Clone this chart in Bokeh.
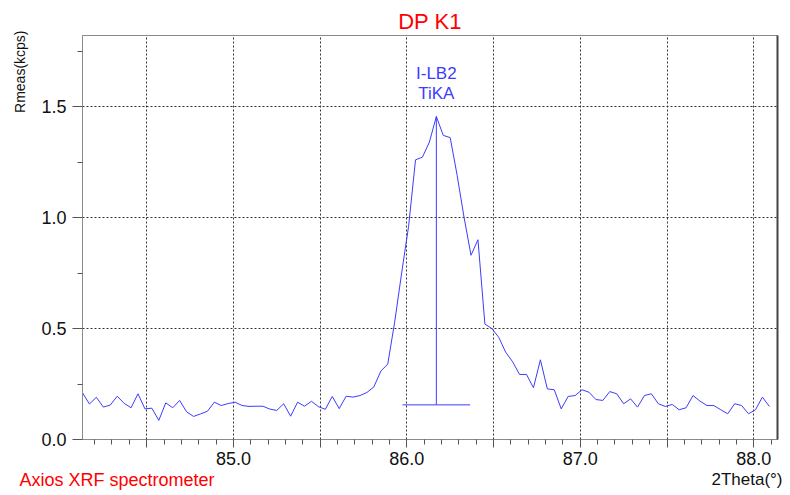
import numpy as np
from bokeh.plotting import figure
from bokeh.layouts import column
from bokeh.models import (Range1d, FixedTicker, LinearAxis, Title, ColumnDataSource)
from bokeh.core.properties import value
from bokeh.embed import file_html
from bokeh.resources import INLINE

# ---- data ----
theta_start = 84.13
theta_step = 0.04
rmeas = [
    0.210, 0.160, 0.190, 0.146, 0.155, 0.195, 0.163, 0.143, 0.206, 0.138,
    0.141, 0.086, 0.165, 0.143, 0.176, 0.125, 0.104, 0.115, 0.127, 0.168,
    0.153, 0.162, 0.168, 0.153, 0.149, 0.150, 0.150, 0.137, 0.131, 0.161,
    0.105, 0.168, 0.150, 0.172, 0.148, 0.136, 0.194, 0.139, 0.195, 0.191,
    0.198, 0.212, 0.237, 0.308, 0.340, 0.530, 0.750, 0.960, 1.260, 1.272,
    1.340, 1.455, 1.370, 1.360, 1.190, 1.000, 0.830, 0.900, 0.520, 0.500,
    0.460, 0.393, 0.350, 0.293, 0.293, 0.233, 0.359, 0.228, 0.224, 0.138,
    0.194, 0.198, 0.224, 0.213, 0.180, 0.176, 0.216, 0.206, 0.161, 0.183,
    0.146, 0.198, 0.206, 0.161, 0.149, 0.158, 0.134, 0.143, 0.198, 0.173,
    0.153, 0.153, 0.134, 0.116, 0.161, 0.153, 0.116, 0.134, 0.191, 0.149,
]
two_theta = [round(theta_start + theta_step * i, 4) for i in range(len(rmeas))]

# peak marker
peak_pos = 86.17
peak_height = 1.455
peak_bg = 0.156
peak_halfwidth = 0.195
peak_names = ["I-LB2", "TiKA"]
peak_name_y = [1.649, 1.559]

x_major = [84.5, 85.0, 85.5, 86.0, 86.5, 87.0, 87.5, 88.0]
x_labels = {84.5: "", 85.0: "85.0", 85.5: "", 86.0: "86.0", 86.5: "",
            87.0: "87.0", 87.5: "", 88.0: "88.0"}
x_minor = [round(84.2 + 0.1 * i, 2) for i in range(40)]
y_major = [0.0, 0.5, 1.0, 1.5]
y_labels = {0.0: "0.0", 0.5: "0.5", 1.0: "1.0", 1.5: "1.5"}
y_minor = [0.25, 0.75, 1.25, 1.75]

FONT = "Liberation Sans"
BLUE = "#3c3cff"
RED = "#ff0000"

p = figure(width=789, height=471, output_backend="svg", toolbar_location=None,
           title=None,
           x_range=Range1d(84.13, 88.137), y_range=Range1d(0, 1.82),
           min_border_left=82, min_border_right=12, min_border_top=35,
           min_border_bottom=32)
p.background_fill_color = "white"
p.border_fill_color = "white"
p.outline_line_color = "#8a8a8a"
p.outline_line_width = 1

# axes
xa = p.xaxis[0]
xa.ticker = FixedTicker(ticks=x_major, minor_ticks=x_minor)
xa.major_label_overrides = x_labels
ya = p.yaxis[0]
ya.ticker = FixedTicker(ticks=y_major, minor_ticks=y_minor)
ya.major_label_overrides = y_labels
for ax in (xa, ya):
    ax.axis_line_color = "#8a8a8a"
    ax.axis_line_width = 1
    ax.major_tick_line_color = "#555555"
    ax.minor_tick_line_color = "#555555"
    ax.major_tick_in = 0
    ax.minor_tick_in = 0
    ax.minor_tick_out = 5
    ax.major_label_text_font = FONT
    ax.major_label_text_font_size = "18px"
    ax.major_label_text_color = "#111111"
xa.major_tick_out = 8
xa.major_label_standoff = 4
ya.major_tick_out = 10
ya.major_label_standoff = 6

right_ax = LinearAxis(ticker=FixedTicker(ticks=[]), axis_line_color="#444444",
                      axis_line_width=2, major_tick_line_color=None,
                      minor_tick_line_color=None, major_label_text_font_size="0px")
p.add_layout(right_ax, "right")

# grids
for g in (p.xgrid[0], p.ygrid[0]):
    g.grid_line_color = "#333333"
    g.grid_line_dash = "2 2"
    g.grid_line_width = 1
p.xgrid[0].ticker = FixedTicker(ticks=x_major)
p.ygrid[0].ticker = FixedTicker(ticks=[0.5, 1.0, 1.5])

# data line
src = ColumnDataSource(dict(x=two_theta, y=rmeas))
p.line("x", "y", source=src, line_color=BLUE, line_width=1)

# peak marker
p.segment(x0=[peak_pos, peak_pos - peak_halfwidth], y0=[peak_bg, peak_bg],
          x1=[peak_pos, peak_pos + peak_halfwidth], y1=[peak_height, peak_bg],
          line_color=BLUE, line_width=1)
p.text(x=[peak_pos] * len(peak_names), y=peak_name_y, text=peak_names,
       text_font=value(FONT), text_font_size="17px", text_color=BLUE,
       text_align="center", text_baseline="alphabetic")

# texts around the frame
p.add_layout(Title(text="DP K1", align="center", vertical_align="top", standoff=0,
                   text_font=FONT, text_font_size="22px", text_font_style="normal",
                   text_color=RED), "above")
p.add_layout(Title(text="Rmeas(kcps)", align="right", vertical_align="top",
                   standoff=18, offset=-5,
                   text_font=FONT, text_font_size="14px", text_font_style="normal",
                   text_color="#111111"), "left")

# bottom strip with the footer texts
foot = figure(width=789, height=23, output_backend="svg", toolbar_location=None,
              title=None, x_range=Range1d(0, 789), y_range=Range1d(0, 23),
              x_axis_type=None, y_axis_type=None, min_border=0)
foot.grid.visible = False
foot.outline_line_color = None
foot.background_fill_color = "white"
foot.border_fill_color = "white"
foot.text(x=[19], y=[15], text=["Axios XRF spectrometer"],
          text_font=value(FONT), text_font_size="18px", text_color=RED,
          text_align="left", text_baseline="alphabetic")
foot.text(x=[782], y=[15], text=["2Theta(°)"],
          text_font=value(FONT), text_font_size="17px", text_color="#111111",
          text_align="right", text_baseline="alphabetic")

for fig in (p, foot):
    if "frame_align" in fig.properties():
        fig.frame_align = False

layout = column(p, foot, spacing=0)
open("out.html", "w").write(file_html(layout, INLINE))
